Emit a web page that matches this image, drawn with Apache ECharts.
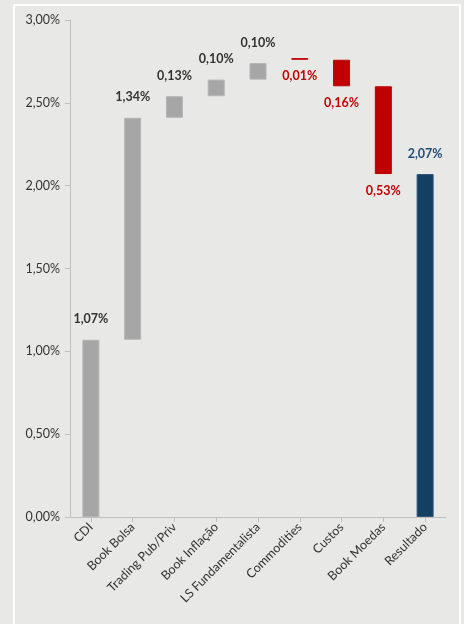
<!DOCTYPE html>
<html>
<head>
<meta charset="utf-8">
<script src="https://cdn.jsdelivr.net/npm/echarts@6/dist/echarts.min.js"></script>
<style>
html,body{margin:0;padding:0;background:#e8e8e7;}
#c{width:464px;height:624px;}
</style>
</head>
<body>
<div id="c"></div>
<script>
var categories = ['CDI','Book Bolsa','Trading Pub/Priv','Book Inflação','LS Fundamentalista','Commodities','Custos','Book Moedas','Resultado'];
// invisible base of each floating bar (%)
var bases = [0, 1.07, 2.41, 2.54, 2.64, 2.76, 2.60, 2.07, 0];
// visible bar heights (%)
var heights = [1.07, 1.34, 0.13, 0.10, 0.10, 0.01, 0.16, 0.53, 2.07];
// kind of each step: 'start', 'up', 'down', 'total'
var kinds = ['start','up','up','up','up','down','down','down','total'];
var yTicks = [0, 0.5, 1, 1.5, 2, 2.5, 3];

var GRAY = '#a6a6a6', RED = '#c00000', NAVY = '#133f62';
function fmt(v){ return v.toFixed(2).replace('.', ',') + '%'; }

var visData = heights.map(function(h, i){
  var k = kinds[i];
  var color = (k === 'down') ? RED : (k === 'total' ? NAVY : GRAY);
  var labelColor = (k === 'down') ? RED : (k === 'total' ? '#1f4e79' : '#333333');
  return {
    value: h,
    itemStyle: {color: color, borderColor: k === 'down' ? RED : (k === 'total' ? '#2e5576' : '#b5b5b5'), borderWidth: 1},
    label: {
      show: true,
      position: k === 'down' ? 'bottom' : 'top',
      distance: k === 'down' ? 10 : 14,
      color: labelColor,
      formatter: function(){ return fmt(h); }
    }
  };
});

var chart = echarts.init(document.getElementById('c'));
chart.setOption({
  backgroundColor: '#e8e8e7',
  animation: false,
  textStyle: {fontFamily: 'Lato'},
  graphic: [{
    type: 'rect',
    shape: {x: 14, y: 5, width: 446, height: 640},
    style: {fill: 'none', stroke: '#ffffff', lineWidth: 2},
    z: -1
  }],
  grid: {left: 70, right: 18, top: 20, bottom: 107, containLabel: false},
  xAxis: {
    type: 'category',
    data: categories,
    boundaryGap: true,
    axisLine: {lineStyle: {color: '#bfbfbf', width: 1}},
    axisTick: {show: true, alignWithLabel: true, length: 5, lineStyle: {color: '#bfbfbf'}},
    axisLabel: {rotate: 45, interval: 0, margin: 8, color: '#333333', fontSize: 12.5, fontFamily: 'Lato'}
  },
  yAxis: {
    type: 'value',
    min: 0, max: 3, interval: 0.5,
    splitLine: {show: false},
    axisLine: {show: true, lineStyle: {color: '#bfbfbf', width: 1}},
    axisTick: {show: true, length: 5, lineStyle: {color: '#bfbfbf'}},
    axisLabel: {color: '#333333', fontSize: 12.5, fontFamily: 'Lato', margin: 10,
      formatter: function(v){ return fmt(v); }}
  },
  series: [
    {type: 'bar', stack: 'w', data: bases, barWidth: 17, silent: true,
     itemStyle: {color: 'transparent'}, label: {show: false}},
    {type: 'bar', stack: 'w', data: visData, barWidth: 17,
     label: {fontSize: 12.5, fontWeight: 'bold', fontFamily: 'Lato'}}
  ]
});
</script>
</body>
</html>
